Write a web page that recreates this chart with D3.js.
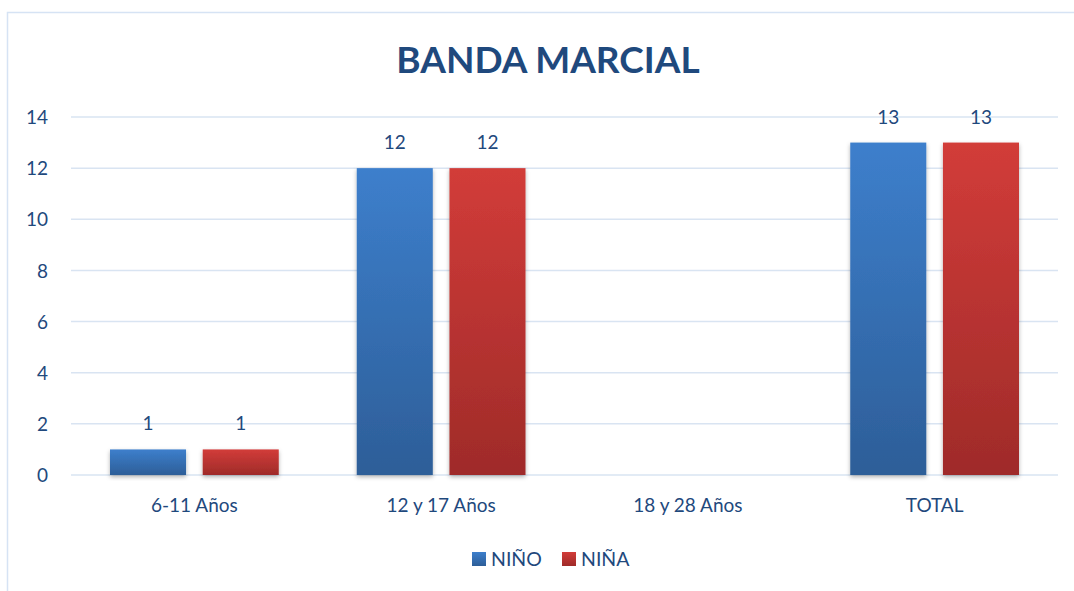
<!DOCTYPE html>
<html>
<head>
<meta charset="utf-8">
<script src="https://cdn.jsdelivr.net/npm/d3@7"></script>
<style>
  body { margin: 0; background: #fff; }
  svg text { font-family: Lato, "Open Sans", sans-serif; fill: #1f497d; }
</style>
</head>
<body>
<div id="grafico"></div>
<script>
const categorias = ["6-11 Años", "12 y 17 Años", "18 y 28 Años", "TOTAL"];
const series = ["NIÑO", "NIÑA"];
const nino = [1, 12, 0, 13];
const nina = [1, 12, 0, 13];
const ticksY = [0, 2, 4, 6, 8, 10, 12, 14];

const width = 1074, height = 591;
const margin = { top: 117, right: 16, bottom: 116, left: 71 };

const dados = categorias.map((c, i) => ({ cat: c, valores: [nino[i], nina[i]] }));

const svg = d3.select('#grafico').append('svg')
    .attr('width', width)
    .attr('height', height);

// gradientes das barras
const defs = svg.append('defs');
const cores = [["#3d7fcc", "#2d5e98"], ["#d23c39", "#9f2b29"]];
cores.forEach((c, i) => {
    let g = defs.append('linearGradient')
        .attr('id', 'grad' + i)
        .attr('x1', 0).attr('y1', 0).attr('x2', 0).attr('y2', 1);
    g.append('stop').attr('offset', '0%').attr('stop-color', c[0]);
    g.append('stop').attr('offset', '100%').attr('stop-color', c[1]);
});
const sombra = defs.append('filter').attr('id', 'sombra')
    .attr('x', '-20%').attr('y', '-20%').attr('width', '140%').attr('height', '140%');
sombra.append('feDropShadow')
    .attr('dx', 0).attr('dy', 2).attr('stdDeviation', 2)
    .attr('flood-color', '#000').attr('flood-opacity', 0.3);

// borda do gráfico
svg.append('rect')
    .attr('x', 7.5).attr('y', 12.5)
    .attr('width', width + 10).attr('height', height + 10)
    .attr('fill', 'none')
    .attr('stroke', '#d6e3f4')
    .attr('stroke-width', 1.5);

svg.append('text')
    .attr('x', 548)
    .attr('y', 73)
    .attr('text-anchor', 'middle')
    .style('font-size', '37px')
    .style('font-weight', 'bold')
    .text('BANDA MARCIAL');

const x0 = d3.scaleBand()
    .domain(categorias)
    .range([margin.left, width - margin.right]);

const x1 = d3.scaleBand()
    .domain(series)
    .range([39, x0.bandwidth() - 39])
    .paddingInner(0.18);

const y = d3.scaleLinear()
    .domain([0, 14])
    .range([height - margin.bottom, margin.top]);

// grade
svg.append('g')
    .selectAll('line')
    .data(ticksY)
    .enter()
    .append('line')
    .attr('x1', margin.left)
    .attr('x2', width - margin.right)
    .attr('y1', d => y(d))
    .attr('y2', d => y(d))
    .attr('stroke', '#d9e4f2')
    .attr('stroke-width', 1.5);

const eixoY = d3.axisLeft(y).tickValues(ticksY).tickSize(0).tickPadding(0);
svg.append('g')
    .attr('transform', 'translate(48,0)')
    .call(eixoY)
    .call(g => g.select('.domain').remove())
    .selectAll('text')
    .style('font-size', '19px')
    .attr('dy', '0.35em');

const eixoX = d3.axisBottom(x0).tickSize(0).tickPadding(24);
svg.append('g')
    .attr('transform', 'translate(0,' + y(0) + ')')
    .call(eixoX)
    .call(g => g.select('.domain').remove())
    .selectAll('text')
    .style('font-size', '19px');

const grupos = svg.append('g')
    .selectAll('g')
    .data(dados)
    .enter()
    .append('g')
    .attr('transform', d => 'translate(' + x0(d.cat) + ',0)');

grupos.selectAll('rect')
    .data(d => d.valores.map((v, i) => ({ serie: series[i], valor: v, i: i })))
    .enter()
    .filter(d => d.valor > 0)
    .append('rect')
    .attr('x', d => x1(d.serie))
    .attr('y', d => y(d.valor))
    .attr('width', x1.bandwidth())
    .attr('height', d => y(0) - y(d.valor))
    .attr('fill', d => 'url(#grad' + d.i + ')')
    .attr('filter', 'url(#sombra)');

grupos.selectAll('text.rotulo')
    .data(d => d.valores.map((v, i) => ({ serie: series[i], valor: v })))
    .enter()
    .filter(d => d.valor > 0)
    .append('text')
    .attr('class', 'rotulo')
    .attr('x', d => x1(d.serie) + x1.bandwidth() / 2)
    .attr('y', d => y(d.valor) - 19)
    .attr('text-anchor', 'middle')
    .style('font-size', '19px')
    .text(d => d.valor);

// legenda
const legenda = svg.append('g')
    .selectAll('g')
    .data(series)
    .enter()
    .append('g')
    .attr('transform', (d, i) => 'translate(' + (472 + i * 90) + ',552)');

legenda.append('rect')
    .attr('width', 14).attr('height', 14)
    .attr('fill', (d, i) => 'url(#grad' + i + ')');

legenda.append('text')
    .attr('x', 19)
    .attr('y', 7)
    .attr('dy', '0.35em')
    .style('font-size', '19.5px')
    .text(d => d);
</script>
</body>
</html>
